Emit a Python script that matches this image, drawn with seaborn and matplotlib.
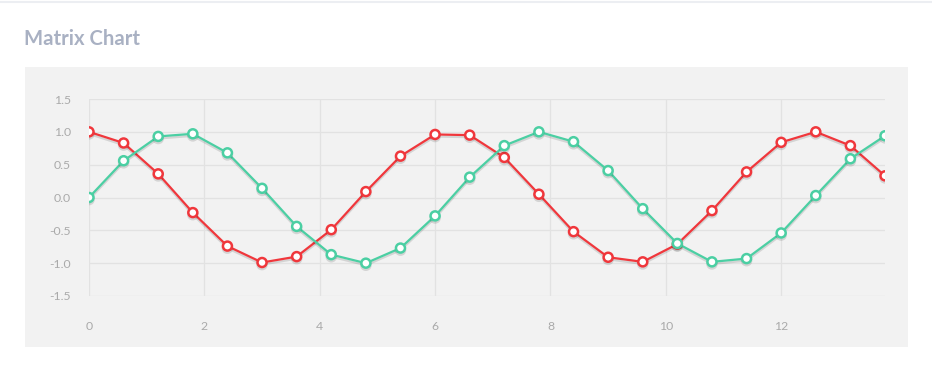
import matplotlib
matplotlib.use('Agg')
import matplotlib.pyplot as plt
import matplotlib.patheffects as pe
from matplotlib.patches import Rectangle
import seaborn as sns
import pandas as pd

# data
x_vals = [0.0, 0.6, 1.2, 1.8, 2.4, 3.0, 3.6, 4.2, 4.8, 5.4, 6.0, 6.6,
          7.2, 7.8, 8.4, 9.0, 9.6, 10.2, 10.8, 11.4, 12.0, 12.6, 13.2, 13.8]
red_vals = [1.00, 0.83, 0.36, -0.23, -0.74, -0.99, -0.90, -0.49, 0.09, 0.63, 0.96, 0.95,
            0.61, 0.05, -0.52, -0.91, -0.98, -0.71, -0.20, 0.39, 0.84, 1.00, 0.79, 0.33]
green_vals = [0.00, 0.56, 0.93, 0.97, 0.68, 0.14, -0.44, -0.87, -1.00, -0.77, -0.28, 0.31,
              0.79, 1.00, 0.85, 0.41, -0.17, -0.70, -0.98, -0.93, -0.54, 0.03, 0.59, 0.94]
x_ticks = [0, 2, 4, 6, 8, 10, 12]
y_ticks = [-1.5, -1.0, -0.5, 0.0, 0.5, 1.0, 1.5]

RED = '#f0373c'
GREEN = '#4bcfa3'
W, H = 932, 371

sns.set_theme(style='white')
plt.rcParams['font.family'] = ['Lato', 'DejaVu Sans']

df = pd.DataFrame({'x': x_vals, 'red': red_vals, 'green': green_vals})

fig = plt.figure(figsize=(W / 100, H / 100), dpi=100)
fig.patch.set_facecolor('white')

# top border + gray panel
fig.add_artist(plt.Line2D([0, 1], [1 - 1.5 / H, 1 - 1.5 / H], color='#eceef2', lw=1.5))
fig.add_artist(Rectangle((25 / W, 1 - 347 / H), (908 - 25) / W, (347 - 67) / H,
                         facecolor='#f2f2f2', edgecolor='none', zorder=0))
fig.text(24 / W, 1 - 39 / H, 'Matrix Chart', fontsize=14.6, fontweight='bold',
         color='#a9b1c3', va='center', ha='left')

ax = fig.add_axes([89 / W, 1 - 296 / H, (885 - 89) / W, (296 - 99) / H])
ax.set_facecolor('none')

shadow = [pe.SimpleLineShadow(offset=(0, -1.5), shadow_color='#000000', alpha=0.12), pe.Normal()]
for col, c in [('red', RED), ('green', GREEN)]:
    sns.lineplot(data=df, x='x', y=col, ax=ax, color=c, lw=1.6,
                 marker='o', markersize=6.5, markerfacecolor='white',
                 markeredgecolor=c, markeredgewidth=1.8, path_effects=shadow,
                 zorder=3)

ax.set_xlim(0, 13.8)
ax.set_ylim(-1.5, 1.5)
ax.set_xticks(x_ticks)
ax.set_yticks(y_ticks)
ax.set_yticklabels([f'{v:.1f}' for v in y_ticks])
ax.grid(True, color='#e2e2e2', lw=0.9)
ax.set_axisbelow(True)
for s in ax.spines.values():
    s.set_visible(False)
ax.tick_params(axis='both', length=0, colors='#aaaaaa', labelsize=8.8)
ax.tick_params(axis='x', pad=18)
ax.tick_params(axis='y', pad=13)
ax.set_xlabel('')
ax.set_ylabel('')

fig.savefig('out.png', dpi=100)
